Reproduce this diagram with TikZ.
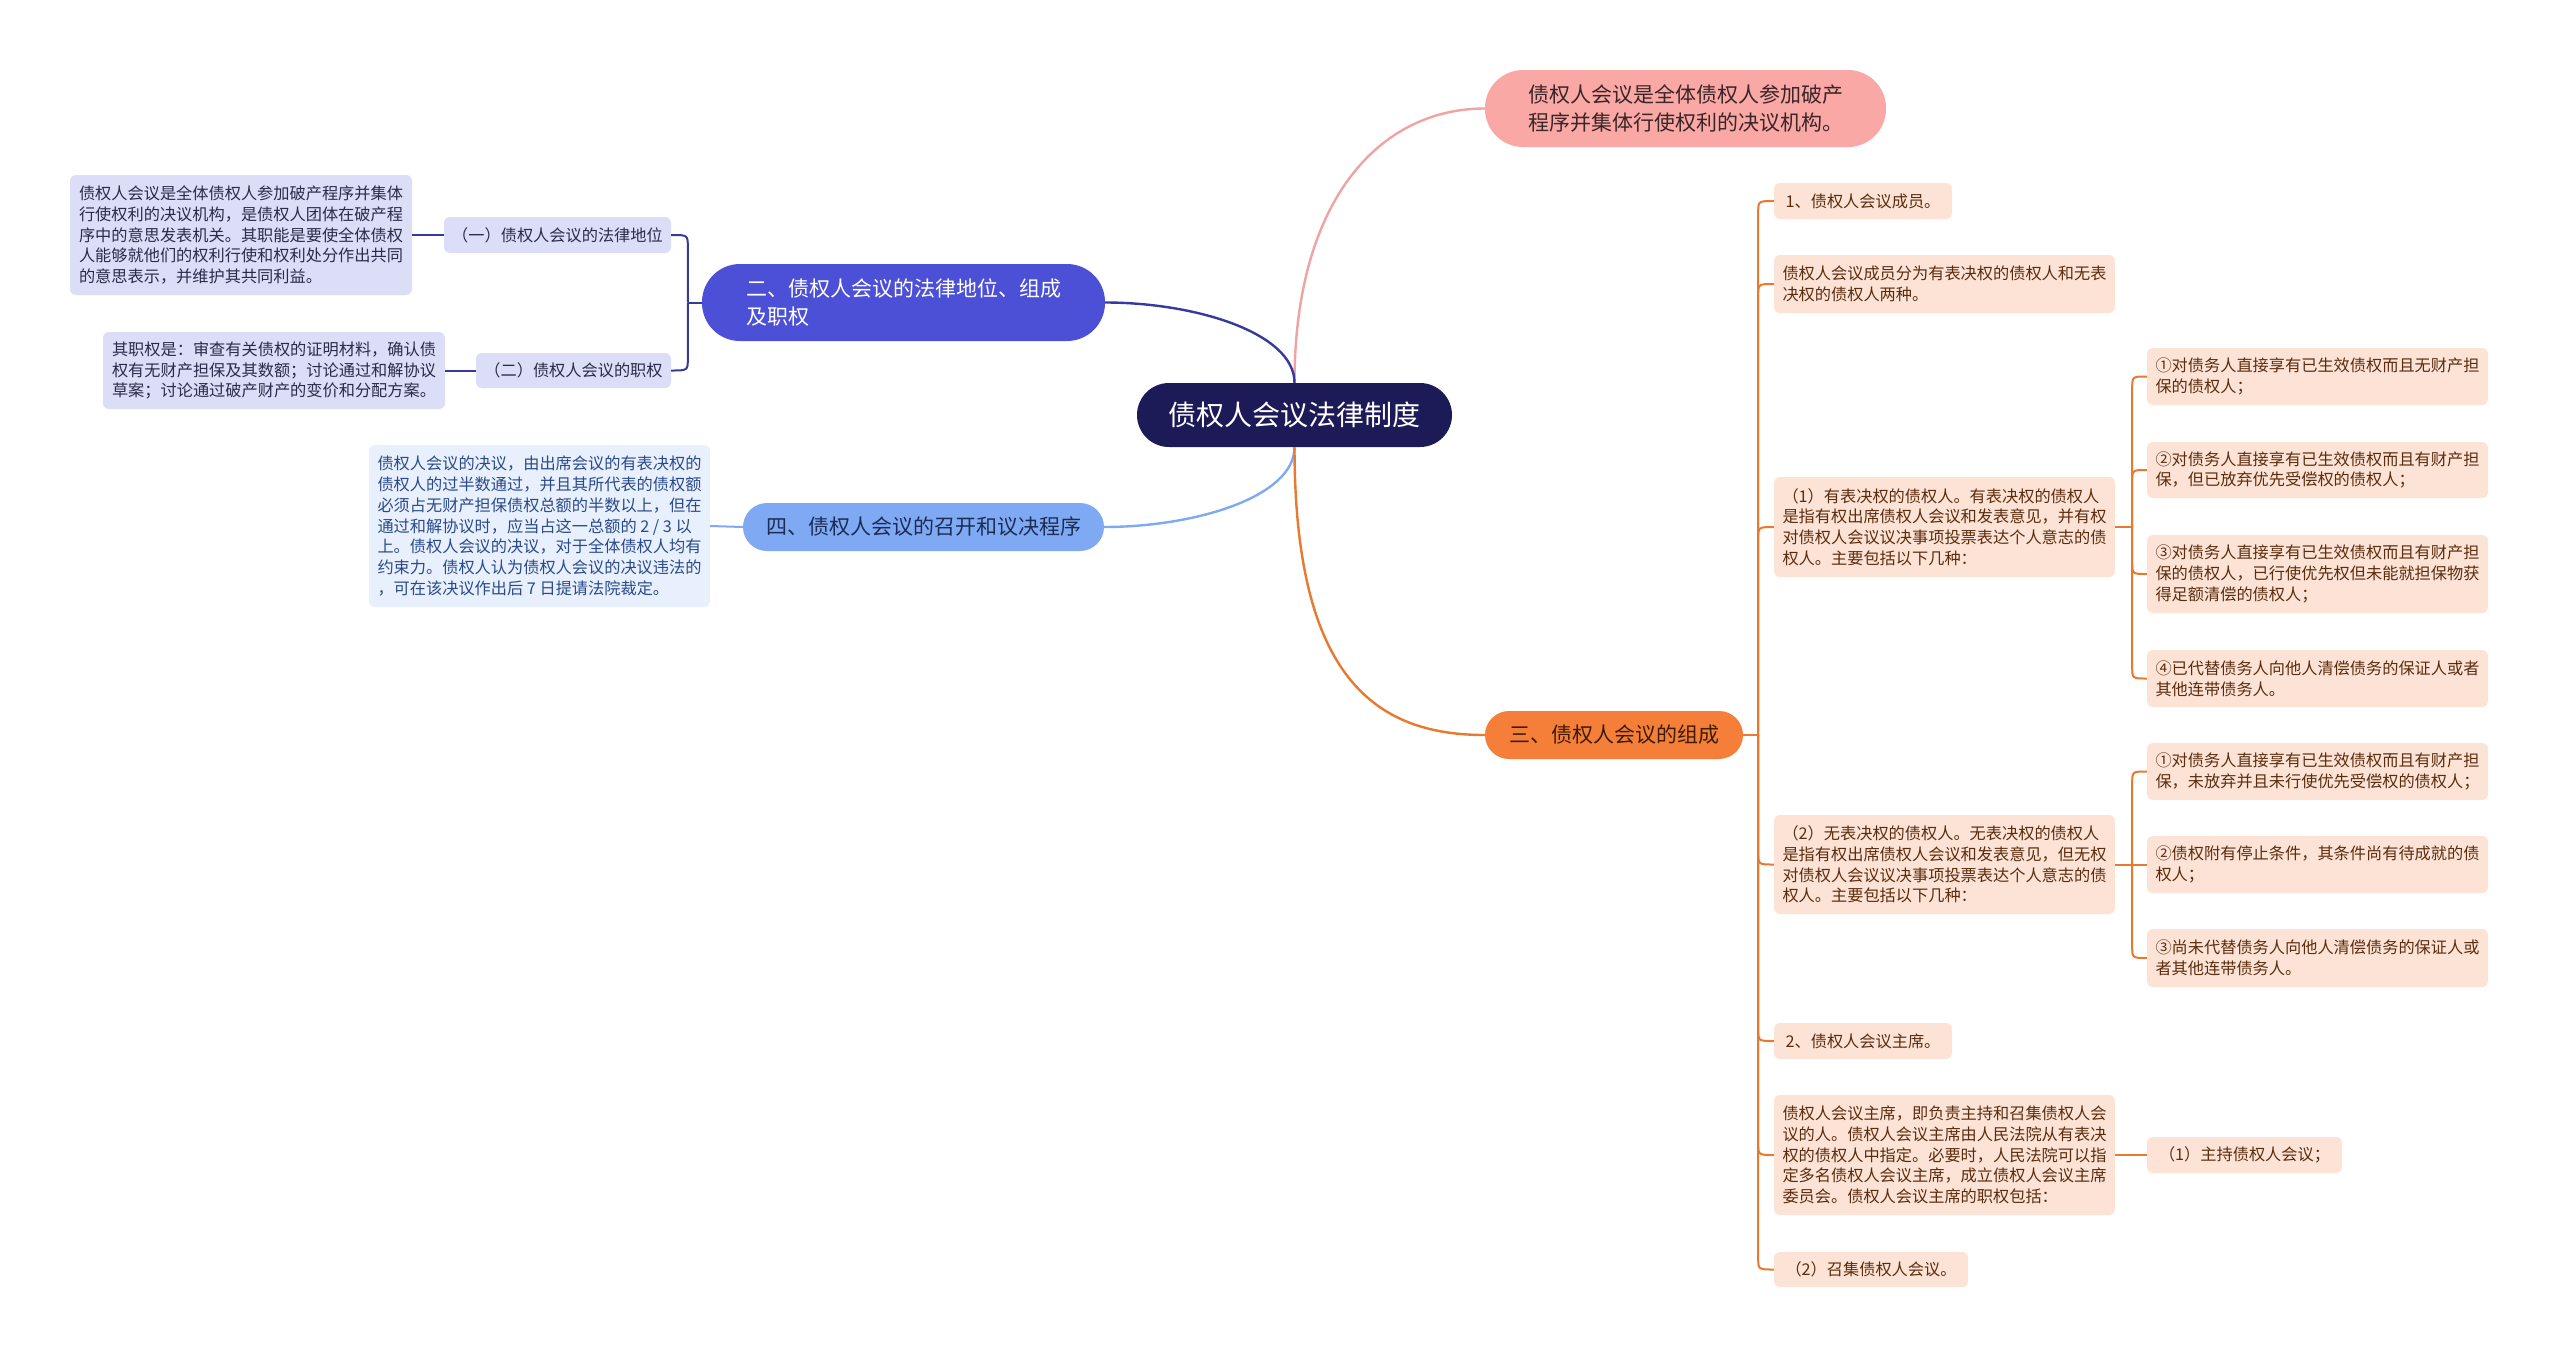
\documentclass[tikz,border=0pt]{standalone}
\usepackage{fontspec}
\setmainfont{Noto Sans CJK SC}
\usetikzlibrary{calc}
\definecolor{cCenter}{HTML}{1C1A57}
\definecolor{cPink}{HTML}{F9A8A6}
\definecolor{cPinkLine}{HTML}{F0A3A3}
\definecolor{cPinkText}{HTML}{3A2626}
\definecolor{cIndigo}{HTML}{4B50D6}
\definecolor{cIndigoLine}{HTML}{363A9C}
\definecolor{cLav}{HTML}{DCDDF6}
\definecolor{cLavText}{HTML}{2B2B4A}
\definecolor{cOrange}{HTML}{F57F38}
\definecolor{cOrangeLine}{HTML}{E8792F}
\definecolor{cOrangeText}{HTML}{3D1C05}
\definecolor{cPeach}{HTML}{FDE3D5}
\definecolor{cBrown}{HTML}{5A2D10}
\definecolor{cSky}{HTML}{7FAAF3}
\definecolor{cSkyText}{HTML}{1B2D55}
\definecolor{cSkyPale}{HTML}{E8F0FD}
\definecolor{cSkyPaleText}{HTML}{2A4A8A}
\tikzset{
  elbow/.style={to path={-- ($(\tikztostart|-\tikztotarget)+(0,#1)$) .. controls (\tikztostart|-\tikztotarget) .. (\tikztotarget)}},
  sz/.style n args={2}{minimum width=#1pt, minimum height=#2pt},
  basebox/.style={inner xsep=7pt, inner ysep=0pt, align=left, rounded corners=6pt},
  smallfont/.style={font=\fontsize{16.2}{20.8}\selectfont},
  bigfont/.style={font=\fontsize{21}{28}\selectfont},
  centerbox/.style={fill=cCenter, text=white, rounded corners=32pt, align=center, font=\fontsize{28}{34}\selectfont},
  pinkbox/.style={fill=cPink, text=cPinkText, rounded corners=38pt, align=left, bigfont},
  indigobox/.style={fill=cIndigo, text=white, rounded corners=38pt, align=left, bigfont},
  orangebox/.style={fill=cOrange, text=cOrangeText, rounded corners=24pt, align=center, bigfont},
  skybox/.style={fill=cSky, text=cSkyText, rounded corners=24pt, align=center, bigfont},
  lavbox/.style={basebox, smallfont, fill=cLav, text=cLavText},
  peachbox/.style={basebox, smallfont, fill=cPeach, text=cBrown},
  palebox/.style={basebox, smallfont, fill=cSkyPale, text=cSkyPaleText},
  mainline/.style={line width=2.4pt},
  subline/.style={line width=2pt},
}
\begin{document}
\begin{tikzpicture}[x=1pt, y=-1pt]
\fill[white] (0,0) rectangle (2560,1358);
\useasboundingbox (0,0) rectangle (2560,1358);

% central and main branches
\node[centerbox, sz={315}{64}] (c) at (1294.5,415) {债权人会议法律制度};
\node[pinkbox, sz={401}{77}] (b1) at (1685.5,108.5) {债权人会议是全体债权人参加破产\\程序并集体行使权利的决议机构。};
\node[indigobox, sz={403}{77}] (b2) at (903.5,302.5) {二、债权人会议的法律地位、组成\\及职权};
\node[orangebox, sz={258}{48}] (b3) at (1614,735) {三、债权人会议的组成};
\node[skybox, sz={361}{48}] (b4) at (923.5,527) {四、债权人会议的召开和议决程序};

% branch two subtree
\node[lavbox, align=center, sz={227}{36}] (L1) at (557.5,235) {（一）债权人会议的法律地位};
\node[lavbox, sz={342}{120}] (L1d) at (241,235) {债权人会议是全体债权人参加破产程序并集体\\行使权利的决议机构，是债权人团体在破产程\\序中的意思发表机关。其职能是要使全体债权\\人能够就他们的权利行使和权利处分作出共同\\的意思表示，并维护其共同利益。};
\node[lavbox, align=center, sz={195}{35}] (L2) at (573.5,370.5) {（二）债权人会议的职权};
\node[lavbox, sz={342}{77}] (L2d) at (274,370.5) {其职权是：审查有关债权的证明材料，确认债\\权有无财产担保及其数额；讨论通过和解协议\\草案；讨论通过破产财产的变价和分配方案。};

% branch four subtree
\node[palebox, sz={341}{162}] (L4d) at (539.5,526) {债权人会议的决议，由出席会议的有表决权的\\债权人的过半数通过，并且其所代表的债权额\\必须占无财产担保债权总额的半数以上，但在\\通过和解协议时，应当占这一总额的 2 / 3 以\\上。债权人会议的决议，对于全体债权人均有\\约束力。债权人认为债权人会议的决议违法的\\，可在该决议作出后 7 日提请法院裁定。};

% branch three subtree
\node[peachbox, align=center, sz={178}{36}] (R1) at (1863,201) {1、债权人会议成员。};
\node[peachbox, sz={341}{58}] (R2) at (1944.5,284) {债权人会议成员分为有表决权的债权人和无表\\决权的债权人两种。};
\node[peachbox, sz={341}{100}] (R3) at (1944.5,527) {（1）有表决权的债权人。有表决权的债权人\\是指有权出席债权人会议和发表意见，并有权\\对债权人会议议决事项投票表达个人意志的债\\权人。主要包括以下几种：};
\node[peachbox, sz={341}{57}] (R3a) at (2317.5,376.5) {①对债务人直接享有已生效债权而且无财产担\\保的债权人；};
\node[peachbox, sz={341}{56}] (R3b) at (2317.5,470) {②对债务人直接享有已生效债权而且有财产担\\保，但已放弃优先受偿权的债权人；};
\node[peachbox, sz={341}{78}] (R3c) at (2317.5,574) {③对债务人直接享有已生效债权而且有财产担\\保的债权人，已行使优先权但未能就担保物获\\得足额清偿的债权人；};
\node[peachbox, sz={341}{57}] (R3d) at (2317.5,678.5) {④已代替债务人向他人清偿债务的保证人或者\\其他连带债务人。};
\node[peachbox, sz={341}{99}] (R4) at (1944.5,864.5) {（2）无表决权的债权人。无表决权的债权人\\是指有权出席债权人会议和发表意见，但无权\\对债权人会议议决事项投票表达个人意志的债\\权人。主要包括以下几种：};
\node[peachbox, sz={341}{57}] (R4a) at (2317.5,771.5) {①对债务人直接享有已生效债权而且有财产担\\保，未放弃并且未行使优先受偿权的债权人；};
\node[peachbox, sz={341}{57}] (R4b) at (2317.5,864.5) {②债权附有停止条件，其条件尚有待成就的债\\权人；};
\node[peachbox, sz={341}{58}] (R4c) at (2317.5,958) {③尚未代替债务人向他人清偿债务的保证人或\\者其他连带债务人。};
\node[peachbox, align=center, sz={178}{36}] (R5) at (1863,1041) {2、债权人会议主席。};
\node[peachbox, sz={341}{120}] (R6) at (1944.5,1155) {债权人会议主席，即负责主持和召集债权人会\\议的人。债权人会议主席由人民法院从有表决\\权的债权人中指定。必要时，人民法院可以指\\定多名债权人会议主席，成立债权人会议主席\\委员会。债权人会议主席的职权包括：};
\node[peachbox, align=center, sz={195}{36}] (R6a) at (2244.5,1155) {（1）主持债权人会议；};
\node[peachbox, align=center, sz={194}{35}] (R7) at (1871,1269.5) {（2）召集债权人会议。};

% main connectors
\draw[mainline, cPinkLine] (c.north) .. controls +(0,-183) and +(-105,0) .. (b1.west);
\draw[mainline, cIndigoLine] (c.north) .. controls +(0,-50) and +(90,0) .. (b2.east);
\draw[mainline, cSky] (c.south) .. controls +(0,50) and +(90,0) .. (b4.east);
\draw[mainline, cOrangeLine] (c.south) .. controls +(0,230) and +(-110,0) .. (b3.west);

% branch two connectors
\coordinate (t2) at ($(b2.west)+(-14,0)$);
\draw[subline, cIndigoLine] (b2.west) -- (t2);
\draw[subline, cIndigoLine] (t2) to[elbow=12] (L1.east);
\draw[subline, cIndigoLine] (t2) to[elbow=-12] (L2.east);
\draw[subline, cIndigoLine] (L1.west) -- (L1d.east);
\draw[subline, cIndigoLine] (L2.west) -- (L2d.east);

% branch four connector
\draw[subline, cSky] (b4.west) -- (L4d.east);

% branch three connectors
\coordinate (t3) at ($(b3.east)+(15,0)$);
\draw[subline, cOrangeLine] (b3.east) -- (t3);
\draw[subline, cOrangeLine] (t3) to[elbow=12] (R1.west);
\draw[subline, cOrangeLine] (t3) to[elbow=12] (R2.west);
\draw[subline, cOrangeLine] (t3) to[elbow=12] (R3.west);
\draw[subline, cOrangeLine] (t3) to[elbow=-12] (R4.west);
\draw[subline, cOrangeLine] (t3) to[elbow=-12] (R5.west);
\draw[subline, cOrangeLine] (t3) to[elbow=-12] (R6.west);
\draw[subline, cOrangeLine] (t3) to[elbow=-12] (R7.west);

\coordinate (t3a) at ($(R3.east)+(17,0)$);
\draw[subline, cOrangeLine] (R3.east) -- (t3a);
\draw[subline, cOrangeLine] (t3a) to[elbow=12] (R3a.west);
\draw[subline, cOrangeLine] (t3a) to[elbow=12] (R3b.west);
\draw[subline, cOrangeLine] (t3a) to[elbow=-12] (R3c.west);
\draw[subline, cOrangeLine] (t3a) to[elbow=-12] (R3d.west);

\coordinate (t4a) at ($(R4.east)+(17,0)$);
\draw[subline, cOrangeLine] (R4.east) -- (t4a);
\draw[subline, cOrangeLine] (t4a) to[elbow=12] (R4a.west);
\draw[subline, cOrangeLine] (t4a) -- (R4b.west);
\draw[subline, cOrangeLine] (t4a) to[elbow=-12] (R4c.west);

\draw[subline, cOrangeLine] (R6.east) -- (R6a.west);
\end{tikzpicture}
\end{document}
